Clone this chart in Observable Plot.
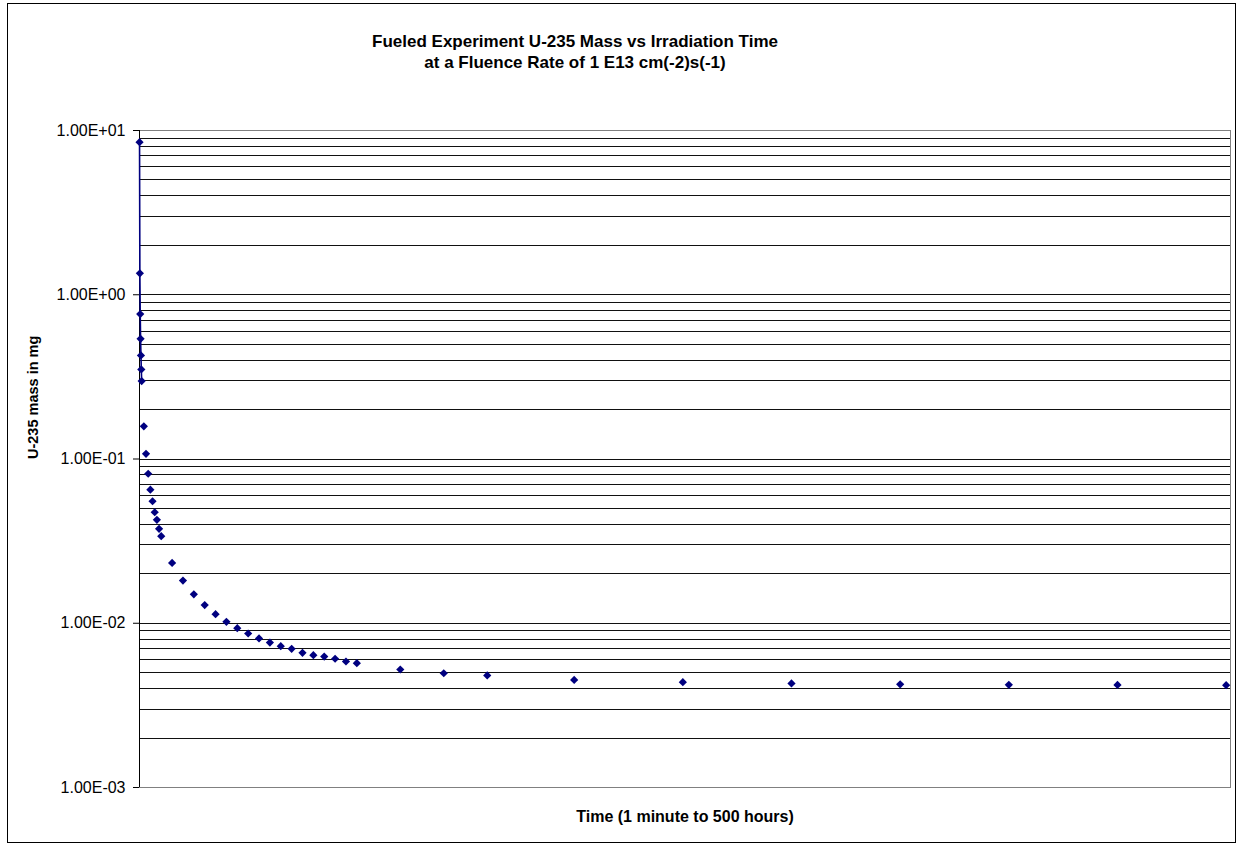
<!DOCTYPE html>
<html>
<head>
<meta charset="utf-8">
<script src="https://cdn.jsdelivr.net/npm/d3@7"></script>
<script src="https://cdn.jsdelivr.net/npm/@observablehq/plot@0.6"></script>
<style>
  html, body { margin: 0; padding: 0; background: #fff; }
  #wrap { position: relative; width: 1238px; height: 845px; }
  #border { position: absolute; left: 7px; top: 3px; width: 1229px; height: 840px;
            box-sizing: border-box; border: 1px solid #000; pointer-events: none; }
</style>
</head>
<body>
<div id="wrap"><div id="border"></div></div>
<script>
// Irradiation time in hours (1 minute to 500 hours)
const timeHours = [1/60, 10/60, 20/60, 30/60, 40/60, 50/60, 1,
  2, 3, 4, 5, 6, 7, 8, 9, 10,
  15, 20, 25, 30, 35, 40, 45, 50, 55, 60, 65, 70, 75, 80, 85, 90, 95, 100,
  120, 140, 160,
  200, 250, 300, 350, 400, 450, 500];
// U-235 mass in mg
const massMg = [8.49, 1.35, 0.763, 0.539, 0.427, 0.351, 0.298,
  0.158, 0.1075, 0.0813, 0.0650, 0.0553, 0.0474, 0.0426, 0.0376, 0.0339,
  0.0233, 0.0182, 0.0150, 0.0129, 0.01135, 0.0102, 0.00933, 0.00866, 0.00808, 0.00763,
  0.00725, 0.00699, 0.00661, 0.00639, 0.00627, 0.00608, 0.00585, 0.00571,
  0.00523, 0.00496, 0.00481,
  0.00452, 0.00438, 0.00430, 0.00425, 0.00422, 0.00421, 0.00420];
// number of leading points joined by the connecting line
const linedCount = 7;
// y tick labels (major decades)
const yTicks = [1e-3, 1e-2, 1e-1, 1e0, 1e1];
const titleLines = ["Fueled Experiment U-235 Mass vs Irradiation Time",
                    "at a Fluence Rate of 1 E13 cm(-2)s(-1)"];
const yTitle = "U-235 mass in mg";
const xTitle = "Time (1 minute to 500 hours)";

const data = timeHours.map((t, i) => ({t, m: massMg[i]}));
const gridVals = [];
for (let e = -3; e <= 0; e++) for (let k = 1; k <= 9; k++) gridVals.push(k * Math.pow(10, e));
gridVals.push(10);

const fmt = d => {
  const [mant, ex] = d.toExponential(2).split("e");
  const sign = ex[0] === "-" ? "-" : "+";
  return `${mant}E${sign}${ex.replace(/[+-]/, "").padStart(2, "0")}`;
};

const font = "'Liberation Sans', Arial, sans-serif";
const navy = "#000080";

const chart = Plot.plot({
  width: 1238,
  height: 845,
  marginLeft: 139,
  marginRight: 8,
  marginTop: 130,
  marginBottom: 58,
  style: {fontFamily: font, fontSize: "16px", color: "#000", background: "transparent", overflow: "visible"},
  x: {domain: [0, 502], axis: null},
  y: {type: "log", domain: [1e-3, 10], axis: null},
  marks: [
    Plot.ruleY(gridVals, {y: d => d, stroke: "#111", strokeWidth: 1, shapeRendering: "crispEdges"}),
    Plot.frame({stroke: "#808080", shapeRendering: "crispEdges"}),
    Plot.ruleX([0], {stroke: "#000", strokeWidth: 1, shapeRendering: "crispEdges"}),
    Plot.axisY({ticks: yTicks, tickFormat: fmt, tickSize: 6, tickPadding: 8,
                fontSize: 16, label: null, stroke: "#000"}),
    Plot.line(data.slice(0, linedCount), {x: "t", y: "m", stroke: navy, strokeWidth: 1.6}),
    Plot.dot(data, {x: "t", y: "m", symbol: "diamond2", r: 3.7, fill: navy, stroke: "none"}),
    Plot.text([titleLines[0]], {frameAnchor: "top", dx: -110, dy: -89, lineAnchor: "middle",
              fontSize: 17, fontWeight: "bold", fill: "#000"}),
    Plot.text([titleLines[1]], {frameAnchor: "top", dx: -110, dy: -68, lineAnchor: "middle",
              fontSize: 17, fontWeight: "bold", fill: "#000"}),
    Plot.text([yTitle], {frameAnchor: "left", dx: -106, rotate: -90, lineAnchor: "middle",
              fontSize: 14.5, fontWeight: "bold", fill: "#000"}),
    Plot.text([xTitle], {frameAnchor: "bottom", dy: 29, lineAnchor: "middle",
              fontSize: 16, fontWeight: "bold", fill: "#000"})
  ]
});
chart.style.position = "absolute";
chart.style.left = "0";
chart.style.top = "0";
document.getElementById("wrap").prepend(chart);
</script>
</body>
</html>
